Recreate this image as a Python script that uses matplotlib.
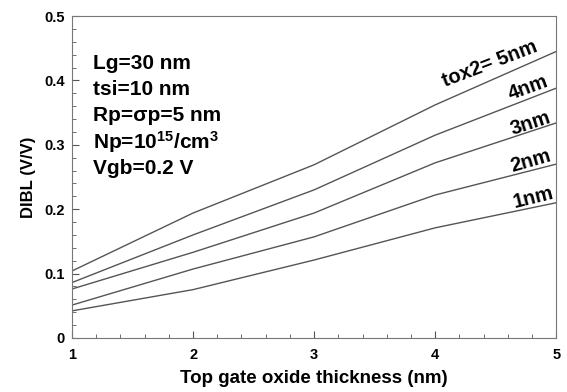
import numpy as np
import matplotlib
matplotlib.use('Agg')
import matplotlib.pyplot as plt
from matplotlib.ticker import MultipleLocator

plt.rcParams['font.family'] = ['Liberation Sans', 'DejaVu Sans']
plt.rcParams['font.weight'] = 'bold'
plt.rcParams['mathtext.fontset'] = 'custom'
plt.rcParams['mathtext.rm'] = 'Liberation Sans:bold'
plt.rcParams['mathtext.default'] = 'rm'

# top gate oxide thickness (nm)
tox1 = [1, 2, 3, 4, 5]
# DIBL (V/V) for each bottom oxide thickness tox2
dibl_5nm = [0.104, 0.194, 0.269, 0.362, 0.445]
dibl_4nm = [0.086, 0.160, 0.230, 0.315, 0.388]
dibl_3nm = [0.076, 0.133, 0.194, 0.272, 0.334]
dibl_2nm = [0.051, 0.107, 0.157, 0.222, 0.270]
dibl_1nm = [0.042, 0.075, 0.121, 0.171, 0.210]

series = [dibl_5nm, dibl_4nm, dibl_3nm, dibl_2nm, dibl_1nm]
labels = ['tox2= 5nm', '4nm', '3nm', '2nm', '1nm']
label_pos = [(4.45, 0.425, 21), (4.77, 0.389, 20), (4.785, 0.333, 18),
             (4.785, 0.275, 16), (4.81, 0.218, 14)]

fig = plt.figure(figsize=(5.67, 3.92), dpi=100)
ax = fig.add_axes([0.127, 0.138, 0.854, 0.821])

for y in series:
    ax.plot(tox1, y, '-', color='#555555', lw=1.0)

for lab, (x, y, rot) in zip(labels, label_pos):
    ax.text(x, y, lab, fontsize=14.5, fontweight='bold', rotation=rot,
            ha='center', va='center', rotation_mode='anchor')

params = ['Lg=30 nm', 'tsi=10 nm', 'Rp=\u03c3p=5 nm',
          r'Np=10$^{15}$/cm$^{3}$', 'Vgb=0.2 V']
for i, p in enumerate(params):
    ax.text(1.17, 0.427 - i * 0.041, p, fontsize=15, fontweight='bold',
            ha='left', va='center')

ax.set_xlim(1, 5)
ax.set_ylim(0, 0.5)
ax.xaxis.set_major_locator(MultipleLocator(1))
ax.xaxis.set_minor_locator(MultipleLocator(0.2))
ax.yaxis.set_minor_locator(MultipleLocator(0.02))
ax.set_yticks([0, 0.1, 0.2, 0.3, 0.4, 0.5])
ax.set_yticklabels(['0', '0.1', '0.2', '0.3', '0.4', '0.5'])
ax.tick_params(which='both', direction='in', top=False, right=False,
               labelsize=10.5, color='#555555')
ax.tick_params(which='major', length=5)
ax.tick_params(which='minor', length=3)
ax.tick_params(axis='x', pad=7)
ax.tick_params(axis='y', pad=5)
for s in ax.spines.values():
    s.set_color('#777777')
ax.set_xlabel('Top gate oxide thickness (nm)', fontsize=13.5, fontweight='bold',
              labelpad=6)
ax.set_ylabel('DIBL (V/V)', fontsize=12, fontweight='bold', labelpad=6)

fig.savefig('out.png', dpi=100)
